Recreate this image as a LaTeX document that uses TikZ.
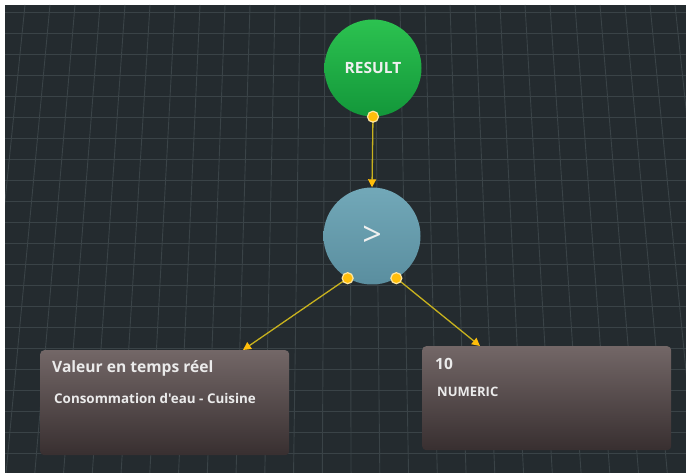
\documentclass[tikz,border=0pt]{standalone}
\usepackage{fontspec}
\setmainfont{Open Sans}[Ligatures=TeXOff]
\usetikzlibrary{arrows.meta}

\definecolor{canvas}{HTML}{242B2F}
\definecolor{gridline}{HTML}{3A4347}
\definecolor{linkline}{HTML}{C8B21E}
\definecolor{portfill}{HTML}{FFBE0A}
\definecolor{portrim}{HTML}{FFE7A0}
\definecolor{greentop}{HTML}{2CC250}
\definecolor{greenbot}{HTML}{13973A}
\definecolor{opertop}{HTML}{72A8B8}
\definecolor{operbot}{HTML}{5A8E9F}
\definecolor{boxtop}{HTML}{736767}
\definecolor{boxbot}{HTML}{382F30}

\tikzset{
  fnt/.style={font=\bfseries\fontsize{#1}{#1}\selectfont},
  roundnode/.style={circle, minimum size=97pt, inner sep=0pt, text=white!94!black},
  port/.style={circle, minimum size=11pt, inner sep=0pt, fill=portfill, draw=portrim, line width=1.2pt},
  conn/.style={draw=linkline, line width=1.3pt,
    -{Triangle[length=8pt,width=8pt,color=portfill]}},
  cardbox/.style={rectangle, rounded corners=4pt, minimum width=249pt, minimum height=105pt,
    inner sep=0pt, top color=boxtop, bottom color=boxbot, anchor=north west},
  cardtext/.style={anchor=base west, inner sep=0pt, text=white!92!black},
}

\begin{document}
\begin{tikzpicture}[x=1pt,y=-1pt]
  % page with a thin white margin on the top and left
  \fill[white] (0,0) rectangle (686,473);
  \fill[canvas] (5,5) rectangle (686,473);
  \useasboundingbox (0,0) rectangle (686,473);

  % receding floor grid
  \begin{scope}
    \clip (5,5) rectangle (686,473);
    \foreach \gx in {-200,-175,...,900} {
      \draw[gridline, line width=0.9pt] (\gx,5) -- ({343+(\gx-343)*1.15},473);
    }
    \foreach \gy in {12,33,...,473} {
      \draw[gridline, line width=0.9pt] (5,\gy) -- (686,\gy);
    }
  \end{scope}

  % nodes
  \node[roundnode, top color=greentop, bottom color=greenbot, fnt=15.5] (result) at (373,68) {RESULT};
  \node[roundnode, top color=opertop, bottom color=operbot, font=\fontsize{34}{34}\selectfont] (cmp) at (372,236) {>};

  \node[cardbox] (left) at (40,350) {};
  \node[cardbox, minimum height=104pt] (right) at (422,346) {};

  \node[cardtext, fnt=15.6] (lt1) at (52,373) {Valeur en temps réel};
  \node[cardtext, fnt=13.4] (lt2) at (54,403) {Consommation d'eau - Cuisine};
  \node[cardtext, fnt=15.5] (rt1) at (435,370) {10};
  \node[cardtext, fnt=13] (rt2) at (437,396) {NUMERIC};

  % arrow ends on the cards
  \coordinate (lin) at ([xshift=203pt]left.north west);
  \coordinate (rin) at ([xshift=58pt]right.north west);

  % connectors
  \draw[conn] (result.south) -- (cmp.north);
  \draw[conn] (cmp.-120) -- (lin);
  \draw[conn] (cmp.-60) -- (rin);

  % ports
  \node[port] (pres) at (result.south) {};
  \node[port] (pl) at (cmp.-120) {};
  \node[port] (pr) at (cmp.-60) {};
\end{tikzpicture}
\end{document}
